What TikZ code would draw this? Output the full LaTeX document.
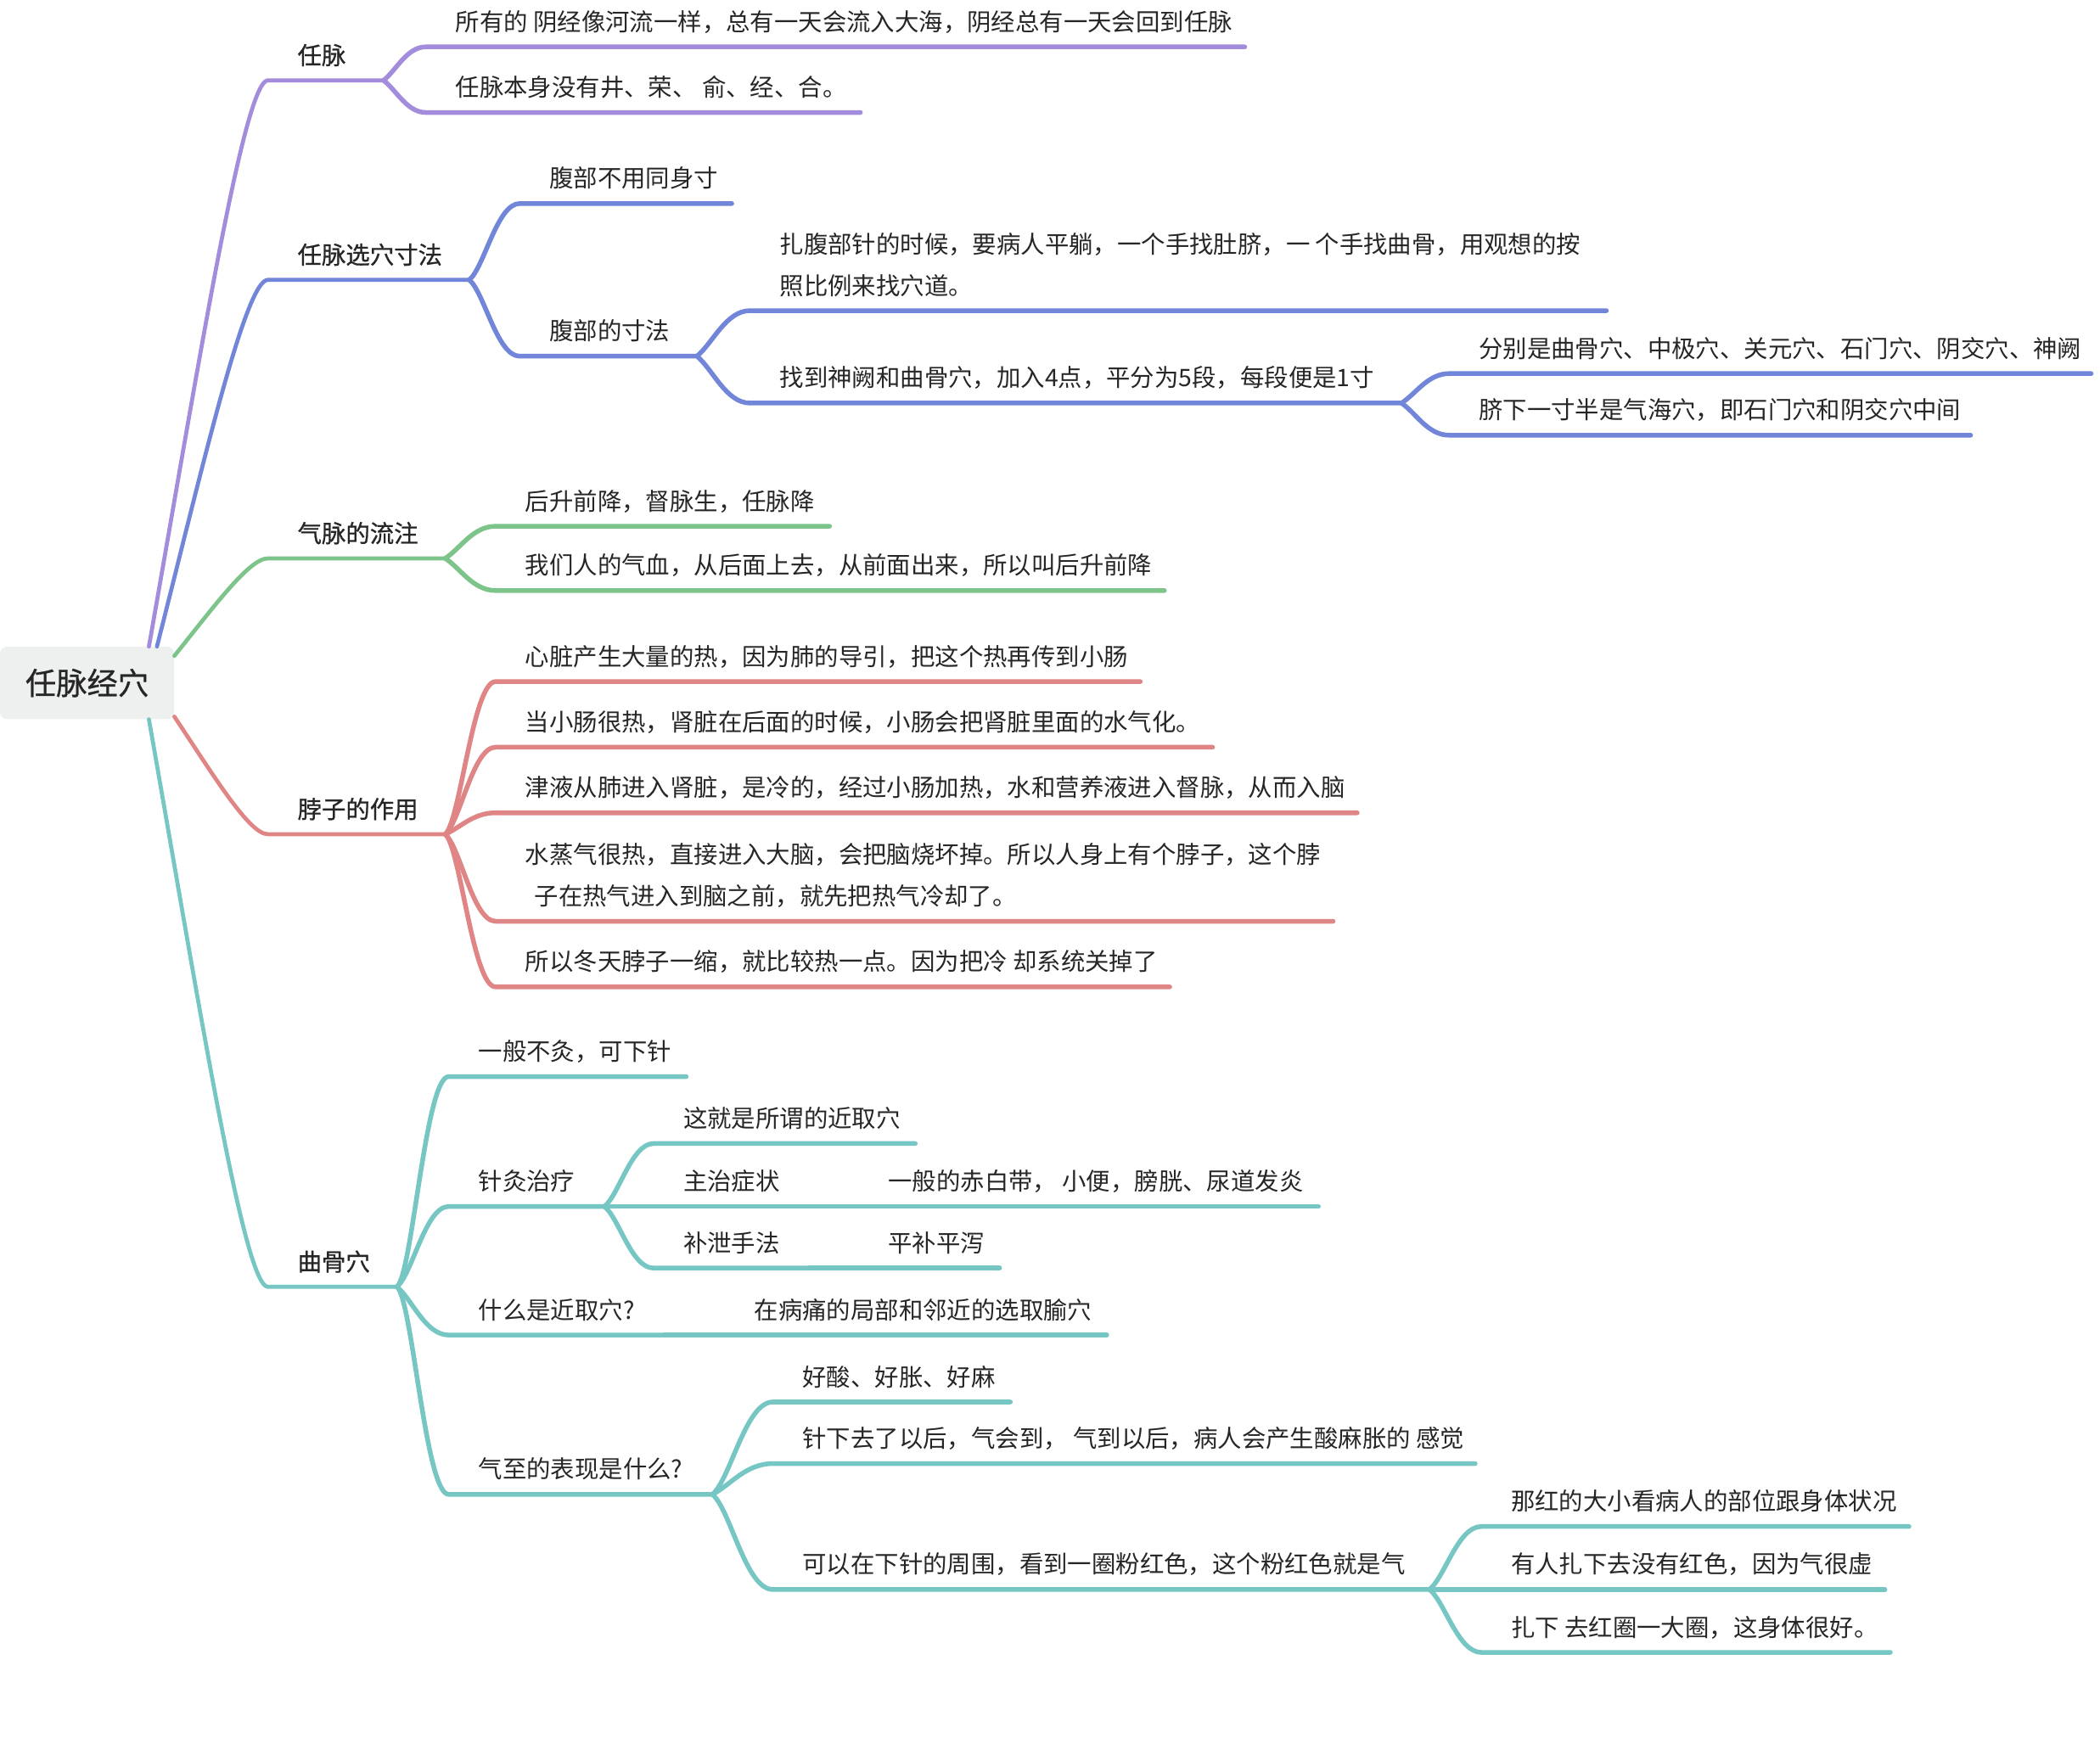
\documentclass[tikz,border=0pt]{standalone}
\usepackage{fontspec}
\setmainfont{Noto Sans CJK SC}
\newfontfamily\mmsemi[FakeBold=0.8]{Noto Sans CJK SC}
\usetikzlibrary{calc}
\definecolor{cpurple}{HTML}{A48CDC}
\definecolor{cblue}{HTML}{7185D9}
\definecolor{cgreen}{HTML}{7DC48A}
\definecolor{cred}{HTML}{E08585}
\definecolor{cteal}{HTML}{76C6C4}
\definecolor{rootgray}{HTML}{EEF0EF}
\definecolor{ink}{HTML}{262626}
\tikzset{
  link/.style={line width=3.5pt, line cap=round, line join=round},
  rootlink/.style={line width=3pt, line cap=round, line join=round},
  leaf/.style={font=\fontsize{18}{31}\selectfont, text=ink, inner sep=0pt},
  main/.style={font=\mmsemi\fontsize{18}{31}\selectfont, text=ink, inner sep=0pt},
  rootbox/.style={fill=rootgray, rounded corners=5pt, minimum width=130pt, minimum height=54pt, inner sep=0pt, font=\mmsemi\fontsize{23}{28}\selectfont, text=ink},
}
% name, text-left x, underline y, right pad, style, text
\newcommand\mmnode[6]{%
  \node[#5, anchor=base west] (#1) at (#2,#3-12) {#6};
  \coordinate (#1L) at ([xshift=-22pt,yshift=-12pt]#1.base west);
  \coordinate (#1R) at ([xshift=#4pt,yshift=-12pt]#1.base east);
}
% colour, from coordinate, to node  (S-curve of a fan)
\newcommand\mmlink[3]{%
  \draw[link,#1] let \p1=(#2), \p2=(#3L),
     \n1={min(0.3*abs(\y2-\y1),0.25*abs(\x2-\x1))}, \n2={sign(\y2-\y1)} in
     (\p1) .. controls ({\x1+0.3*(\x2-\x1)},{\y1+\n2*\n1}) and ({\x1+0.55*(\x2-\x1)},\y2) .. (\p2) -- (#3R);
}
% colour, from coordinate, to node  (long branch from the root)
\newcommand\mmrootlink[3]{%
  \draw[rootlink,#1] let \p1=(#2), \p2=(#3L) in (\p1) .. controls ({\x1+0.42*(\x2-\x1)},{\y1+0.5*(\y2-\y1)}) and ({\x1+0.8*(\x2-\x1)},\y2) .. (\p2) -- (#3R);
}
\newcommand\mmtwo[2]{\begin{tabular}[b]{@{}l@{}}#1\\#2\end{tabular}}
\begin{document}
\begin{tikzpicture}[x=1pt,y=-1pt]
\fill[white] (0,0) rectangle (1568,1302);
\useasboundingbox (0,0) rectangle (1568,1302);

% root
\node[rootbox] (root) at (65,510) {任脉经穴};
\coordinate (rP) at ([xshift=-19pt]root.north east);
\coordinate (rB) at ([xshift=-13pt]root.north east);
\coordinate (rG) at ([yshift=-7pt]root.north east);
\coordinate (rR) at ([yshift=2pt]root.south east);
\coordinate (rT) at ([xshift=-19pt]root.south east);

% level 1
\mmnode{n1}{222}{60}{28}{main}{任脉}
\mmnode{n2}{222}{209}{20}{main}{任脉选穴寸法}
\mmnode{n3}{222}{417}{20}{main}{气脉的流注}
\mmnode{n4}{222}{623}{20}{main}{脖子的作用}
\mmnode{n5}{222}{961}{20}{main}{曲骨穴}

% under 任脉
\mmnode{a1}{340}{35}{9}{leaf}{所有的 阴经像河流一样，总有一天会流入大海，阴经总有一天会回到任脉}
\mmnode{a2}{340}{84}{10}{leaf}{任脉本身没有井、荣、 俞、经、合。}

% under 任脉选穴寸法
\mmnode{b1}{410}{152}{10}{leaf}{腹部不用同身寸}
\mmnode{b2}{410}{266}{20}{leaf}{腹部的寸法}
\mmnode{c1}{582}{232}{19}{leaf}{\mmtwo{扎腹部针的时候，要病人平躺，一个手找肚脐，一 个手找曲骨，用观想的按}{照比例来找穴道。}}
\mmnode{c2}{582}{301}{20}{leaf}{找到神阙和曲骨穴，加入4点，平分为5段，每段便是1寸}
\mmnode{d1}{1104}{279}{7}{leaf}{分别是曲骨穴、中极穴、关元穴、石门穴、阴交穴、神阙}
\mmnode{d2}{1104}{325}{7}{leaf}{脐下一寸半是气海穴，即石门穴和阴交穴中间}

% under 气脉的流注
\mmnode{e1}{392}{393}{11}{leaf}{后升前降，督脉生，任脉降}
\mmnode{e2}{392}{441}{9}{leaf}{我们人的气血，从后面上去，从前面出来，所以叫后升前降}

% under 脖子的作用
\mmnode{f1}{392}{509}{9}{leaf}{心脏产生大量的热，因为肺的导引，把这个热再传到小肠}
\mmnode{f2}{392}{558}{9}{leaf}{当小肠很热，肾脏在后面的时候，小肠会把肾脏里面的水气化。}
\mmnode{f3}{392}{607}{9}{leaf}{津液从肺进入肾脏，是冷的，经过小肠加热，水和营养液进入督脉，从而入脑}
\mmnode{f4}{392}{688}{9}{leaf}{\mmtwo{水蒸气很热，直接进入大脑，会把脑烧坏掉。所以人身上有个脖子，这个脖}{\hspace*{0.38em}子在热气进入到脑之前，就先把热气冷却了。}}
\mmnode{f5}{392}{737}{9}{leaf}{所以冬天脖子一缩，就比较热一点。因为把冷 却系统关掉了}

% under 曲骨穴
\mmnode{g1}{357}{804}{11}{leaf}{一般不灸，可下针}
\mmnode{g2}{357}{901}{22}{leaf}{针灸治疗}
\mmnode{h1}{510}{854}{11}{leaf}{这就是所谓的近取穴}
\mmnode{h2}{510}{901}{22}{leaf}{主治症状}
\mmnode{i1}{663}{901}{11}{leaf}{一般的赤白带， 小便，膀胱、尿道发炎}
\mmnode{h3}{510}{947}{22}{leaf}{补泄手法}
\mmnode{i2}{663}{947}{11}{leaf}{平补平泻}
\mmnode{g3}{357}{997}{22}{leaf}{什么是近取穴?}
\mmnode{j1}{563}{997}{11}{leaf}{在病痛的局部和邻近的选取腧穴}
\mmnode{g4}{357}{1116}{22}{leaf}{气至的表现是什么?}
\mmnode{k1}{599}{1047}{11}{leaf}{好酸、好胀、好麻}
\mmnode{k2}{599}{1093}{8}{leaf}{针下去了以后，气会到， 气到以后，病人会产生酸麻胀的 感觉}
\mmnode{k3}{599}{1187}{18}{leaf}{可以在下针的周围，看到一圈粉红色，这个粉红色就是气}
\mmnode{l1}{1128}{1140}{9}{leaf}{那红的大小看病人的部位跟身体状况}
\mmnode{l2}{1128}{1187}{9}{leaf}{有人扎下去没有红色，因为气很虚}
\mmnode{l3}{1128}{1234}{9}{leaf}{扎下 去红圈一大圈，这身体很好。}

% connectors from root
\mmrootlink{cpurple}{rP}{n1}
\mmrootlink{cblue}{rB}{n2}
\mmrootlink{cgreen}{rG}{n3}
\mmrootlink{cred}{rR}{n4}
\mmrootlink{cteal}{rT}{n5}

% purple
\mmlink{cpurple}{n1R}{a1}
\mmlink{cpurple}{n1R}{a2}
% blue
\mmlink{cblue}{n2R}{b1}
\mmlink{cblue}{n2R}{b2}
\mmlink{cblue}{b2R}{c1}
\mmlink{cblue}{b2R}{c2}
\mmlink{cblue}{c2R}{d1}
\mmlink{cblue}{c2R}{d2}
% green
\mmlink{cgreen}{n3R}{e1}
\mmlink{cgreen}{n3R}{e2}
% red
\mmlink{cred}{n4R}{f1}
\mmlink{cred}{n4R}{f2}
\mmlink{cred}{n4R}{f3}
\mmlink{cred}{n4R}{f4}
\mmlink{cred}{n4R}{f5}
% teal
\mmlink{cteal}{n5R}{g1}
\mmlink{cteal}{n5R}{g2}
\mmlink{cteal}{n5R}{g3}
\mmlink{cteal}{n5R}{g4}
\mmlink{cteal}{g2R}{h1}
\mmlink{cteal}{g2R}{h2}
\mmlink{cteal}{g2R}{h3}
\mmlink{cteal}{h2R}{i1}
\mmlink{cteal}{h3R}{i2}
\mmlink{cteal}{g3R}{j1}
\mmlink{cteal}{g4R}{k1}
\mmlink{cteal}{g4R}{k2}
\mmlink{cteal}{g4R}{k3}
\mmlink{cteal}{k3R}{l1}
\mmlink{cteal}{k3R}{l2}
\mmlink{cteal}{k3R}{l3}
\end{tikzpicture}
\end{document}
